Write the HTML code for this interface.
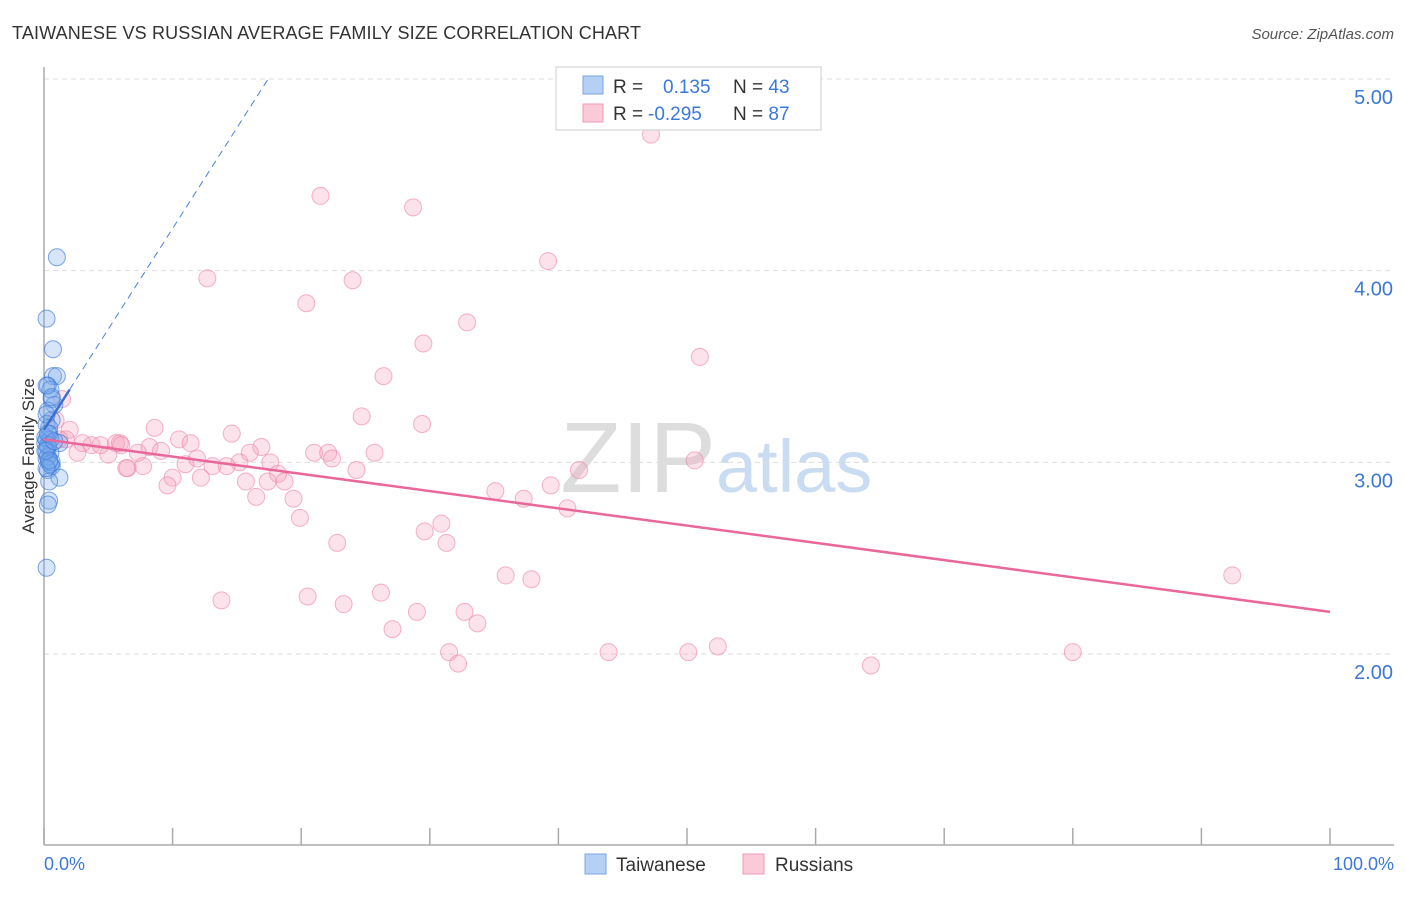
<!DOCTYPE html>
<html><head><meta charset="utf-8"><style>
body{margin:0;background:#fff;font-family:"Liberation Sans",sans-serif;}
svg text{font-family:"Liberation Sans",sans-serif;}
</style></head><body>
<svg id="c" width="1406" height="892" xmlns="http://www.w3.org/2000/svg">
<text x="12" y="39" font-size="18" fill="#333" textLength="629">TAIWANESE VS RUSSIAN AVERAGE FAMILY SIZE CORRELATION CHART</text>
<text x="1394" y="39" font-size="15" fill="#555" font-style="italic" text-anchor="end">Source: ZipAtlas.com</text>
<text x="716" y="492" font-size="100" fill="#ddd" text-anchor="end" font-family="Liberation Serif,serif">ZIP</text>
<text x="716" y="492" font-size="74" fill="#c9dcf2">atlas</text>
<g id="grid"></g>
<line x1="44" y1="67" x2="44" y2="845" stroke="#aaa" stroke-width="1.5"/>
<line x1="44" y1="845" x2="1394" y2="845" stroke="#aaa" stroke-width="1.5"/>
<g id="ticks"></g>
<text transform="translate(34,456) rotate(-90)" font-size="17" fill="#333" text-anchor="middle">Average Family Size</text>
<text x="44" y="870" font-size="18" fill="#3b78d8">0.0%</text>
<text x="1394" y="870" font-size="18" fill="#3b78d8" text-anchor="end">100.0%</text>
<g id="pts"></g>
<g id="lines"></g>
<g>
<rect x="556" y="67" width="265" height="63" fill="#fff" stroke="#ccc"/>
<rect x="583" y="76" width="20" height="18" fill="#b5d0f5" stroke="#7aa6e6"/>
<rect x="583" y="104" width="20" height="18" fill="#fbcad8" stroke="#f09ab4"/>
<text x="613" y="93" font-size="19" fill="#333">R = <tspan fill="#3b78d8" x="663">0.135</tspan><tspan x="733" fill="#333">N = </tspan><tspan fill="#3b78d8">43</tspan></text>
<text x="613" y="120" font-size="19" fill="#333">R = <tspan fill="#3b78d8" x="648">-0.295</tspan><tspan x="733" fill="#333">N = </tspan><tspan fill="#3b78d8">87</tspan></text>
</g>
<g>
<rect x="585" y="854" width="21" height="20" fill="#b5d0f5" stroke="#7aa6e6"/>
<text x="616" y="871" font-size="19" fill="#333">Taiwanese</text>
<rect x="743" y="854" width="21" height="20" fill="#fbcad8" stroke="#f09ab4"/>
<text x="775" y="871" font-size="19" fill="#333">Russians</text>
</g>
</svg>
<script>
const yTicks=[2,3,4,5];
const yTickLabels=["2.00","3.00","4.00","5.00"];
const taiwX=[1.0,0.2,0.7,0.7,1.0,0.3,0.5,0.6,0.8,0.3,0.6,0.2,0.4,0.2,1.2,0.3,0.5,0.2,0.4,0.6,0.3,1.2,0.4,0.4,0.3,0.2,0.1,0.5,0.2,0.3,0.6,0.2,0.4,0.1,0.3,0.5,0.2,0.6,0.1,0.3,0.2,0.4,0.8];
const taiwY=[4.07,3.75,3.59,3.45,3.45,3.40,3.38,3.33,3.30,3.27,3.22,3.20,3.15,3.12,3.10,3.08,3.05,3.02,3.00,2.98,2.96,2.92,2.90,2.80,2.78,2.45,3.10,3.12,3.06,3.03,3.00,3.40,3.18,3.13,3.09,2.99,3.25,3.34,3.06,3.15,2.97,3.01,3.11];
const rusX=[47.2,21.5,28.7,39.2,12.7,24.0,20.4,32.9,29.5,51.0,26.4,24.7,29.4,8.6,14.6,10.5,11.4,16.9,8.2,25.7,21.0,22.1,16.0,9.1,7.3,2.6,5.0,22.4,11.9,50.6,15.2,17.6,11.0,14.2,13.1,7.7,6.5,6.4,24.3,41.6,18.2,10.0,12.2,17.4,18.7,15.7,9.6,39.4,35.1,16.5,37.3,19.4,40.7,19.9,30.9,29.6,31.3,22.8,92.4,35.9,37.9,26.2,20.5,13.8,23.3,32.7,29.0,33.7,27.1,52.4,31.5,43.9,50.1,80.0,32.2,64.3,1.2,2.0,3.7,4.4,5.6,5.9,1.7,1.4,0.9,3.0,6.0];
const rusY=[4.71,4.39,4.33,4.05,3.96,3.95,3.83,3.73,3.62,3.55,3.45,3.24,3.20,3.18,3.15,3.12,3.10,3.08,3.08,3.05,3.05,3.05,3.05,3.06,3.05,3.05,3.04,3.02,3.02,3.01,3.00,3.00,2.99,2.98,2.98,2.98,2.97,2.97,2.96,2.96,2.94,2.92,2.92,2.90,2.90,2.90,2.88,2.88,2.85,2.82,2.81,2.81,2.76,2.71,2.68,2.64,2.58,2.58,2.41,2.41,2.39,2.32,2.30,2.28,2.26,2.22,2.22,2.16,2.13,2.04,2.01,2.01,2.01,2.01,1.95,1.94,3.12,3.17,3.09,3.09,3.10,3.10,3.12,3.33,3.22,3.10,3.09];
const taiwLine=[3.17,0.105];
const rusLine=[3.12,-0.0090];
const X=v=>44+v*12.86, Y=v=>79+(5-v)*191.67;
const NS="http://www.w3.org/2000/svg";
function mk(t,a,p){const e=document.createElementNS(NS,t);for(const k in a)e.setAttribute(k,a[k]);p.appendChild(e);return e;}
const grid=document.getElementById('grid');
yTicks.forEach((v,i)=>{
 const l=mk('line',{x1:44,x2:1394,y1:Y(v),y2:Y(v),stroke:'#ddd','stroke-dasharray':'5,4'},grid);
 
 
 const t=mk('text',{x:1393,y:Y(v)+25,'font-size':20,fill:'#3b78d8','text-anchor':'end'},grid);
 t.textContent=yTickLabels[i];
 
 
});
const tk=document.getElementById('ticks');
for(let i=0;i<=10;i++){const l=mk('line',{x1:X(i*10),x2:X(i*10),y1:828,y2:845,stroke:'#aaa','stroke-width':1.5},tk);
 
 }
const pts=document.getElementById('pts');
rusX.forEach((x,i)=>{const c=mk('circle',{cx:X(x),cy:Y(rusY[i]),r:8.5,fill:'rgba(246,160,188,0.3)',stroke:'rgba(236,130,165,0.6)'},pts);
 
 });
taiwX.forEach((x,i)=>{const c=mk('circle',{cx:X(x),cy:Y(taiwY[i]),r:8.5,fill:'rgba(120,170,235,0.3)',stroke:'rgba(60,120,215,0.65)'},pts);
 
 });
const ln=document.getElementById('lines');
const x5=(5-taiwLine[0])/taiwLine[1];
let d=mk('line',{x1:X(0),y1:Y(taiwLine[0]),x2:X(x5),y2:Y(5),stroke:'#4a80d8','stroke-width':1,'stroke-dasharray':'7,5'},ln);


d=mk('line',{x1:X(0),y1:Y(taiwLine[0]),x2:X(2),y2:Y(taiwLine[0]+2*taiwLine[1]),stroke:'#3b70d0','stroke-width':2.5},ln);


d=mk('line',{x1:X(0),y1:Y(rusLine[0]),x2:X(100),y2:Y(rusLine[0]+100*rusLine[1]),stroke:'#e9679a','stroke-width':2.5},ln);


</script>
</body></html>
